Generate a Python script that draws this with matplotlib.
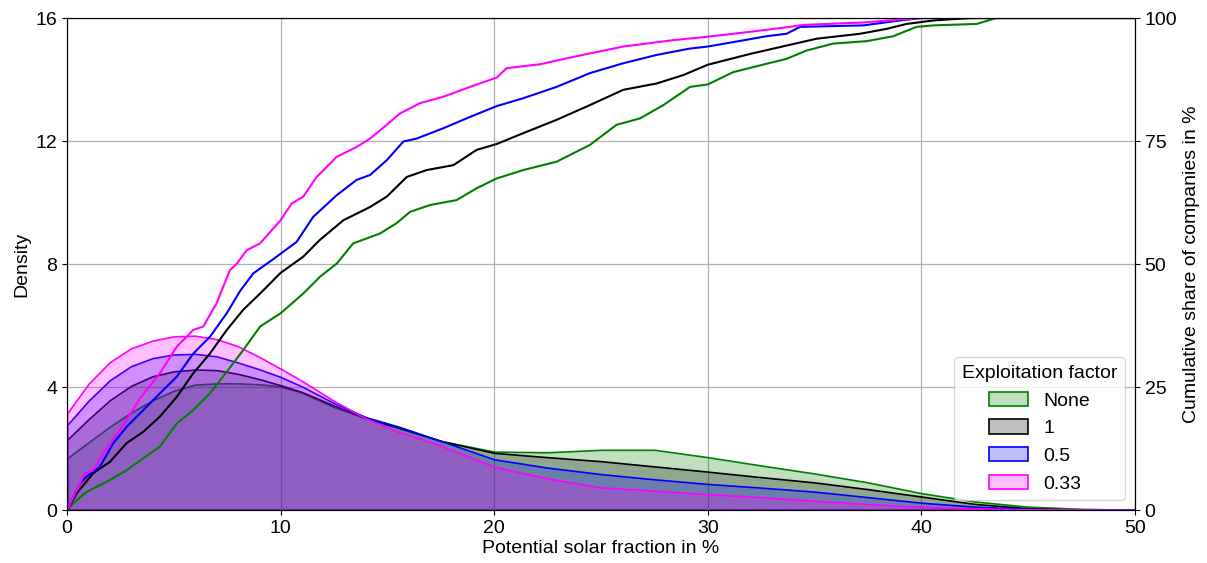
import numpy as np
import matplotlib
matplotlib.use('Agg')
import matplotlib.pyplot as plt
from matplotlib.patches import Patch

plt.rcParams['font.family'] = ['Liberation Sans', 'DejaVu Sans']

# exploitation factors and their colours
labels = ['None', '1', '0.5', '0.33']
colors = ['green', 'black', 'blue', 'magenta']

# kernel density estimates of the potential solar fraction (density in % per %)
kde_x = [0, 1, 2, 3, 4, 5, 6, 7, 8, 9, 10, 11, 12.5, 14, 15.5, 17.5, 20, 22.5,
         25, 27.5, 30, 32.5, 35, 37.5, 40, 42.5, 45, 47.5, 50]
kde_none = [1.68, 2.20, 2.71, 3.17, 3.57, 3.88, 4.08, 4.12, 4.12, 4.09, 4.02, 3.82, 3.35, 2.98,
            2.68, 2.25, 1.90, 1.88, 1.96, 1.96, 1.72, 1.45, 1.19, 0.90, 0.55, 0.28, 0.11, 0.04, 0.01]
kde_1 = [2.28, 2.95, 3.57, 4.04, 4.35, 4.51, 4.57, 4.55, 4.43, 4.26, 4.06, 3.84, 3.40, 3.00,
         2.69, 2.25, 1.86, 1.72, 1.59, 1.42, 1.25, 1.07, 0.90, 0.68, 0.44, 0.20, 0.06, 0.01, 0.0]
kde_05 = [2.76, 3.55, 4.22, 4.68, 4.94, 5.06, 5.08, 5.00, 4.80, 4.58, 4.33, 4.02, 3.48, 3.02,
          2.72, 2.25, 1.65, 1.38, 1.17, 1.00, 0.85, 0.73, 0.60, 0.42, 0.24, 0.11, 0.04, 0.01, 0.0]
kde_033 = [3.14, 4.10, 4.81, 5.26, 5.51, 5.65, 5.67, 5.56, 5.33, 4.98, 4.60, 4.20, 3.55, 2.98,
           2.55, 2.10, 1.41, 1.03, 0.74, 0.63, 0.52, 0.42, 0.30, 0.20, 0.10, 0.05, 0.02, 0.01, 0.0]

# cumulative share of companies (%) over the solar fraction
cdf_none_x = [0, 0.3, 0.92, 2.01, 2.79, 3.57, 4.35, 5.14, 5.91, 6.69, 7.48, 8.25, 9.04, 10, 11.06,
              11.84, 12.63, 13.4, 14.65, 15.43, 16.06, 17.0, 18.24, 19.18, 20.12, 21.36, 22.92,
              24.48, 25.73, 26.83, 27.92, 29.17, 30, 31.19, 32.75, 33.69, 34.63, 35.87, 37.44,
              38.68, 39.78, 40.56, 42.6, 43.5, 50]
cdf_none = [0, 1.4, 3.7, 6.1, 8.1, 10.5, 12.9, 17.6, 20.3, 23.7, 28.1, 32.5, 37.3, 40.0, 44.0,
            47.4, 50.1, 54.2, 56.2, 58.3, 60.6, 62.0, 63.0, 65.4, 67.4, 69.1, 70.8,
            74.2, 78.3, 79.6, 82.3, 86.0, 86.5, 89.0, 90.7, 91.7, 93.4, 94.8, 95.3,
            96.3, 98.2, 98.5, 98.8, 100, 100]
cdf_1_x = [0, 0.45, 1.23, 2.01, 2.79, 3.57, 4.35, 5.14, 5.91, 6.69, 7.48, 8.25, 9.04, 10, 11.06,
           11.84, 12.94, 14.19, 14.97, 15.91, 16.84, 18.09, 19.18, 20.12, 21.36, 22.92, 24.48,
           26.04, 27.61, 28.85, 30, 31.98, 33.69, 35.10, 37.13, 38.38, 39.31, 40.56, 42.3, 50]
cdf_1 = [0, 3.4, 7.5, 9.8, 13.6, 15.9, 19.0, 23.0, 27.8, 31.8, 36.6, 40.7, 44.0, 48.2, 51.5,
         54.9, 58.9, 61.6, 63.7, 67.7, 69.1, 70.1, 73.2, 74.4, 76.6, 79.3, 82.3,
         85.4, 86.7, 88.4, 90.5, 92.7, 94.4, 95.8, 96.8, 97.8, 98.8, 99.5, 100, 100]
cdf_05_x = [0, 0.61, 0.92, 1.54, 2.17, 2.79, 3.57, 4.35, 5.14, 5.91, 6.69, 7.48, 8.10, 8.72, 9.66,
            10.75, 11.53, 12.63, 13.56, 14.19, 14.97, 15.75, 16.37, 17.62, 18.87, 20.12, 21.36,
            22.92, 24.48, 26.04, 27.61, 29.17, 30, 31.19, 32.75, 33.69, 34.32, 37.28, 39.0, 40.0, 50]
cdf_05 = [0, 5.4, 6.8, 8.8, 13.6, 16.9, 20.3, 23.7, 27.1, 31.8, 35.2, 40.0, 44.5, 48.1, 51.0,
          54.5, 59.6, 64.0, 67.1, 68.1, 71.1, 74.9, 75.5, 77.6, 79.9, 82.1, 83.7,
          86.0, 88.8, 90.8, 92.5, 93.8, 94.2, 95.1, 96.3, 96.8, 98.2, 98.5, 99.5, 100, 100]
cdf_033_x = [0, 0.84, 1.23, 1.70, 2.48, 3.42, 4.35, 5.14, 5.91, 6.38, 7.0, 7.63, 7.94, 8.41, 9.04,
             10, 10.52, 11.06, 11.69, 12.63, 13.56, 14.19, 14.97, 15.59, 16.53, 17.62, 18.87,
             20.12, 20.58, 22.14, 23.70, 26.04, 28.38, 30, 31.98, 33.85, 34.47, 37.28, 39.0, 40.0, 50]
cdf_033 = [0, 7.5, 8.1, 11.6, 16.3, 22.7, 27.8, 33.2, 36.6, 37.3, 42.0, 48.8, 50.0, 52.8, 54.2,
           58.9, 62.3, 63.7, 67.7, 71.8, 73.8, 75.5, 78.3, 80.6, 82.7, 84.0, 86.0,
           87.9, 89.8, 90.6, 92.1, 94.2, 95.5, 96.2, 97.2, 98.2, 98.6, 99.1, 99.7, 100, 100]

kde_values = [kde_none, kde_1, kde_05, kde_033]
cdf_xs = [cdf_none_x, cdf_1_x, cdf_05_x, cdf_033_x]
cdf_values = [cdf_none, cdf_1, cdf_05, cdf_033]

fig = plt.figure(figsize=(12.07, 5.63), dpi=100)
ax = fig.add_axes([0.0555, 0.094, 0.8848, 0.874])

# density curves, filled
for dens, c in zip(kde_values, colors):
    ax.fill_between(kde_x, dens, 0, facecolor=matplotlib.colors.to_rgba(c, 0.25),
                    edgecolor=c, linewidth=1.2, zorder=2)

ax.set_xlim(0, 50)
ax.set_ylim(0, 16)
ax.set_yticks([0, 4, 8, 12, 16])
ax.set_xticks([0, 10, 20, 30, 40, 50])
ax.grid(True, color='#b0b0b0', linewidth=0.9, zorder=0)
ax.set_axisbelow(True)
ax.set_xlabel('Potential solar fraction in %', fontsize=14, labelpad=2)
ax.set_ylabel('Density', fontsize=14)
ax.tick_params(labelsize=14)

# cumulative distribution on the second axis
ax2 = ax.twinx()
for xs, ys, c in zip(cdf_xs, cdf_values, colors):
    ax2.plot(xs, ys, color=c, linewidth=1.5)
ax2.set_ylim(0, 100)
ax2.set_yticks([0, 25, 50, 75, 100])
ax2.set_ylabel('Cumulative share of companies in %', fontsize=14)
ax2.tick_params(labelsize=14)

handles = [Patch(facecolor=matplotlib.colors.to_rgba(c, 0.25), edgecolor=c, linewidth=1.2)
           for c in colors]
ax2.legend(handles, labels, title='Exploitation factor', loc='lower right',
           fontsize=14, title_fontsize=14, handlelength=2.0, handleheight=0.75,
           borderaxespad=0.5)

plt.savefig('out.png', dpi=100)
